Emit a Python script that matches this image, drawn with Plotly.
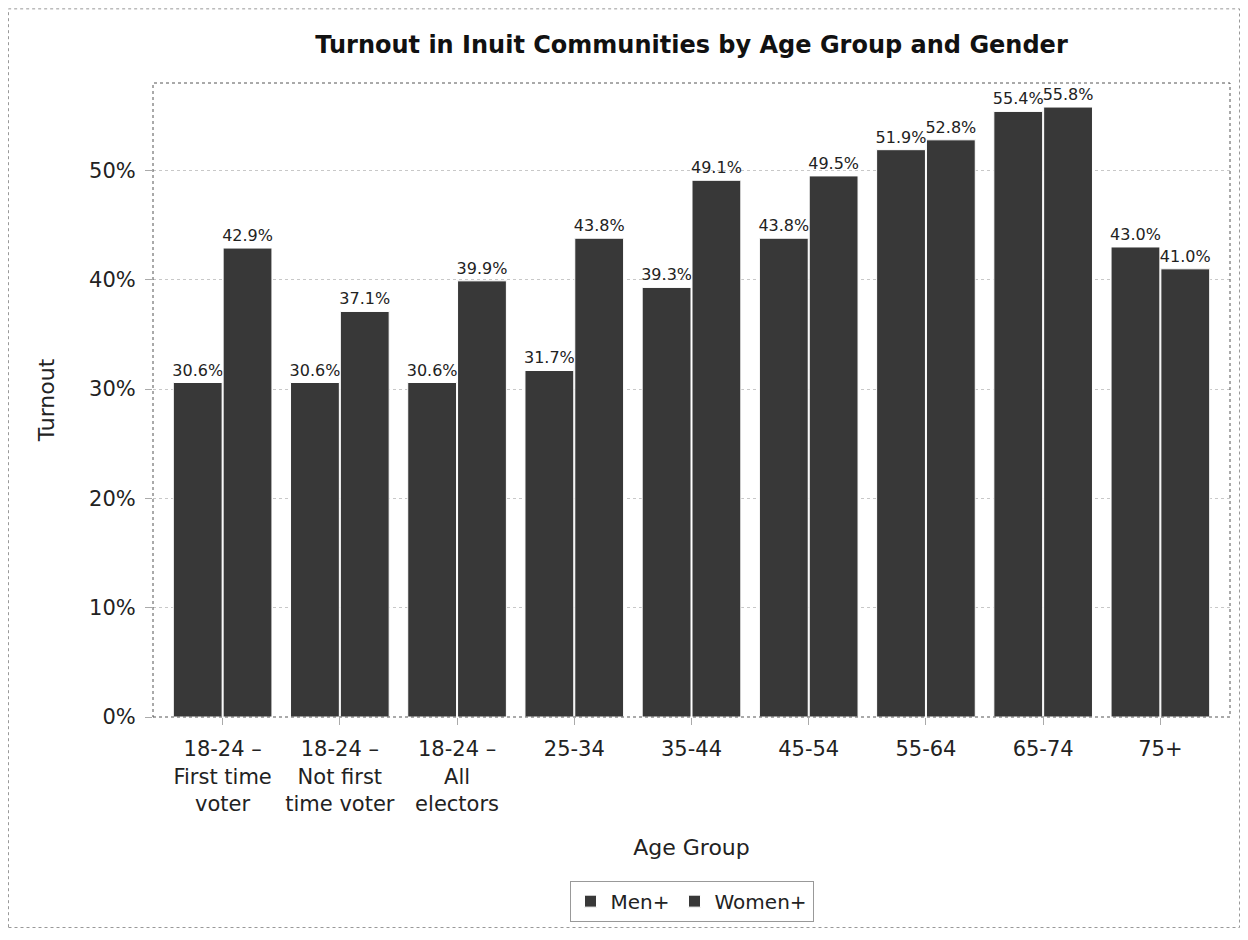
import plotly.graph_objects as go

categories = ["18-24 –<br>First time<br>voter", "18-24 –<br>Not first<br>time voter", "18-24 –<br>All<br>electors",
              "25-34", "35-44", "45-54", "55-64", "65-74", "75+"]
men = [30.6, 30.6, 30.6, 31.7, 39.3, 43.8, 51.9, 55.4, 43.0]
women = [42.9, 37.1, 39.9, 43.8, 49.1, 49.5, 52.8, 55.8, 41.0]
y_ticks = [0, 10, 20, 30, 40, 50]
y_tick_labels = ["0%", "10%", "20%", "30%", "40%", "50%"]

# page body has an 8px margin, so the figure sits at (8, 8)
W, H = 1232, 924
L, R, T, B = 145, 10, 75, 212
bar_color = "#383838"
font_family = "DejaVu Sans, Liberation Sans, Arial, sans-serif"

fig = go.Figure()
for name, vals in [("Men+", men), ("Women+", women)]:
    fig.add_trace(go.Bar(
        name=name, x=list(range(len(categories))), y=vals,
        marker=dict(color=bar_color, line=dict(color="white", width=1)),
        texttemplate="%{y:.1f}%", textposition="outside", constraintext="none",
        textfont=dict(size=16, color="#222"), cliponaxis=False,
    ))

pw = W - L - R
ph = H - T - B
fig.update_layout(
    width=W, height=H,
    margin=dict(l=L, r=R, t=T, b=B),
    paper_bgcolor="white", plot_bgcolor="white",
    font=dict(family=font_family, color="#222"),
    barmode="group", bargap=0.15, bargroupgap=0.02,
    title=dict(text="<b>Turnout in Inuit Communities by Age Group and Gender</b>",
               x=(L + pw / 2) / W, xanchor="center", y=1 - 37 / H, yanchor="middle",
               font=dict(size=24, color="#111")),
    xaxis=dict(tickmode="array", tickvals=list(range(len(categories))), ticktext=categories,
               range=[-0.594, 8.594], showgrid=False, zeroline=False,
               ticks="outside", ticklen=7, tickcolor="#aaa", ticklabelstandoff=6,
               tickfont=dict(size=21, color="#222"),
               title=dict(text="Age Group", font=dict(size=22, color="#222"), standoff=24),
               showline=False),
    yaxis=dict(tickmode="array", tickvals=y_ticks, ticktext=y_tick_labels,
               range=[0, 58], showgrid=True, gridcolor="#c8c8c8", griddash="dot",
               zeroline=False, ticks="outside", ticklen=7, tickcolor="#aaa", ticklabelstandoff=5,
               tickfont=dict(size=21, color="#222"),
               title=dict(text="Turnout", font=dict(size=22, color="#222"), standoff=28),
               showline=False),
    legend=dict(orientation="h", x=0.5, xanchor="center",
                y=(H - B - 897) / ph, yanchor="middle",
                font=dict(size=20, color="#222"), bordercolor="#999", borderwidth=1),
    showlegend=True,
)

# plot frame (dotted)
fig.add_shape(type="rect", xref="paper", yref="paper", x0=0, y0=0, x1=1, y1=1,
              line=dict(color="#555", width=1, dash="dot"), layer="above")
# outer frame (dotted) at figure edge
fig.add_shape(type="rect", xref="paper", yref="paper",
              x0=(0.5 - L) / pw, x1=(W - 0.5 - L) / pw,
              y0=(H - B - (H - 0.5)) / ph, y1=(H - B - 0.5) / ph,
              line=dict(color="#999", width=1, dash="dot"), layer="above")

fig.write_html("out.html")
